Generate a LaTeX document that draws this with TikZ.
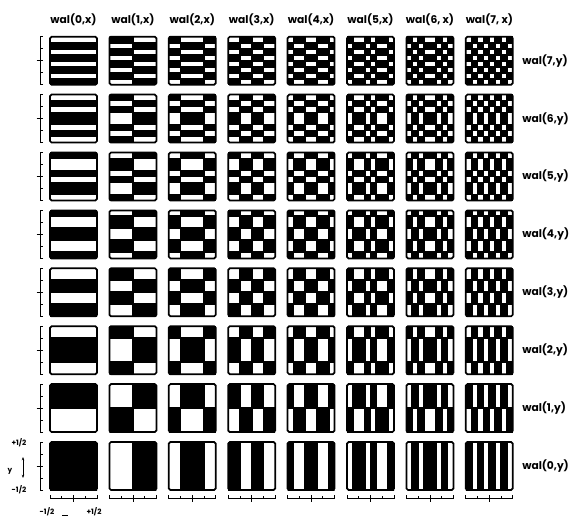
\documentclass[tikz,border=0pt]{standalone}
\usepackage{fontspec}
\setmainfont{Poppins}
\usetikzlibrary{arrows.meta}
% walsh functions wal(0..7) on eight intervals, +1 = black
\def\walarr{{ 1, 1, 1, 1, 1, 1, 1, 1,
             -1,-1,-1,-1, 1, 1, 1, 1,
             -1,-1, 1, 1, 1, 1,-1,-1,
              1, 1,-1,-1, 1, 1,-1,-1,
              1,-1,-1, 1, 1,-1,-1, 1,
             -1, 1, 1,-1, 1,-1,-1, 1,
             -1, 1,-1, 1, 1,-1, 1,-1,
              1,-1, 1,-1, 1,-1, 1,-1}}
\tikzset{
  walbox/.style={draw=black, line width=1.3pt, rounded corners=1.2pt},
  axis/.style={line width=0.6pt},
  lbl/.style={font=\bfseries\fontsize{8}{9}\selectfont, inner sep=0pt},
  tick/.style={font=\bfseries\fontsize{5.5}{6}\selectfont, inner sep=0pt},
}

\begin{document}
\begin{tikzpicture}[x=0.75pt, y=0.75pt]
  \useasboundingbox (0,0) rectangle (570,517);
  % patterns
  \foreach \i in {0,...,7} {
    \foreach \j in {0,...,7} {
      \pgfmathsetmacro\bx{50+59.4*\i}
      \pgfmathsetmacro\by{27+57.9*\j}
      \begin{scope}[shift={(\bx,\by)}]
        \clip (0,0) rectangle (47,48);
        \fill[white] (0,0) rectangle (47,48);
        \foreach \s in {0,...,7}
          \foreach \t in {0,...,7} {
            \pgfmathtruncatemacro\v{\walarr[8*\i+\s]*\walarr[8*\j+\t]}
            \ifnum\v>0
              \fill[black] (\s*5.875-0.9,\t*6-0.9) rectangle ++(7.675,7.8);
            \fi
          }
      \end{scope}
      \draw[walbox] (\bx,\by) rectangle ++(47,48);
    }
  }

  % y axes
  \foreach \j in {0,...,7} {
    \pgfmathsetmacro\by{27+57.9*\j}
    \draw[axis] (43,\by) -- (40,\by) -- (40,\by+48) -- (43,\by+48);
    \draw[axis] (40,\by+12) -- ++(2.5,0) (40,\by+36) -- ++(2.5,0)
      (36.5,\by+24) -- (43,\by+24);
  }
  % x axes
  \foreach \i in {0,...,7} {
    \pgfmathsetmacro\bx{50+59.4*\i}
    \draw[axis] (\bx,22) -- (\bx,19) -- (\bx+47,19) -- (\bx+47,22);
    \draw[axis] (\bx+11.75,19) -- ++(0,2.5) (\bx+35.25,19) -- ++(0,2.5)
      (\bx+23.5,15.5) -- (\bx+23.5,22);
  }

  % column and row labels
  \foreach \i/\txt in {0/{wal(0,x)}, 1/{wal(1,x)}, 2/{wal(2,x)}, 3/{wal(3,x)},
                       4/{wal(4,x)}, 5/{wal(5,x)}, 6/{wal(6, x)}, 7/{wal(7, x)}}
    \node[lbl] (h\i) at (73.5+59.4*\i,497) {\txt};
  \foreach \j in {0,...,7}
    \node[lbl, anchor=west] (r\j) at (522,51+57.9*\j) {wal(\j,y)};

  % scale marks
  \node[tick] (yp) at (19,74) {+1/2};
  \node[tick] (ym) at (19,27) {-1/2};
  \node[tick] (yy) at (10,46) {y};
  \coordinate (ya) at (23,60);
  \coordinate (yb) at (23,39);
  \draw[axis, {Stealth[length=2.5pt]}-{Stealth[length=2.5pt]}] (ya) -- (yb);
  \node[tick] (xm) at (47,5) {-1/2};
  \node[tick] (xp) at (94,5) {+1/2};
  \coordinate (xa) at (62,2);
  \coordinate (xb) at (68,2);
  \draw[axis] (xa) -- (xb);
\end{tikzpicture}
\end{document}
